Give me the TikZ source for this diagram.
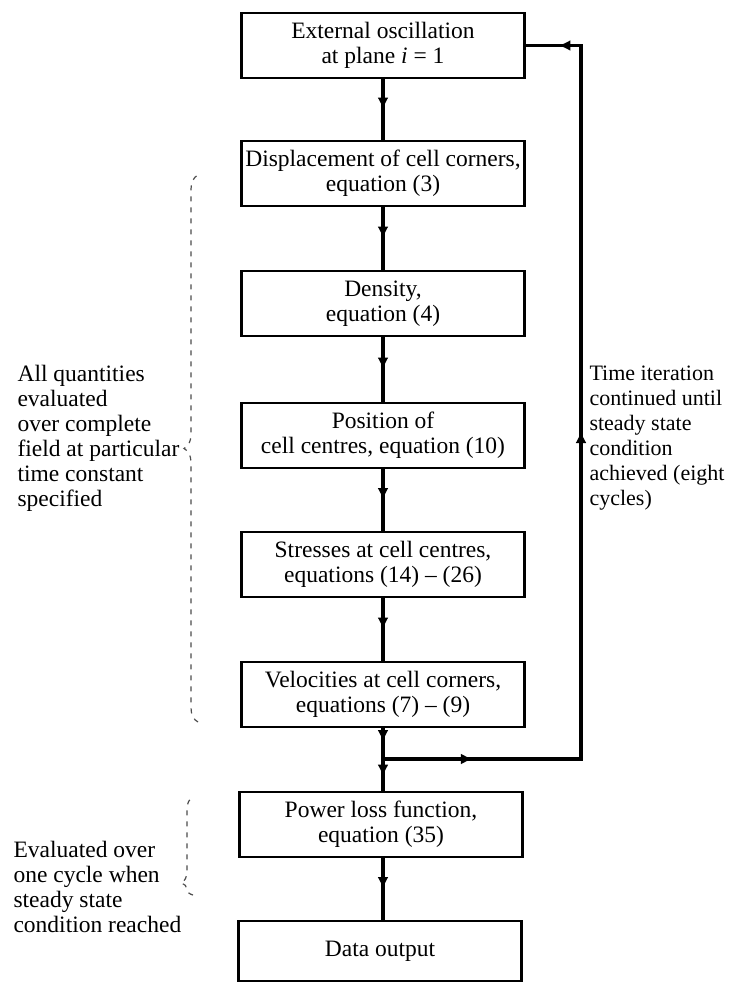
\documentclass[tikz,border=0pt]{standalone}
\usepackage{fontspec}
\setmainfont{Liberation Serif}
\usetikzlibrary{arrows.meta,decorations.markings,decorations.pathreplacing}

\tikzset{
  procbox/.style={draw,line width=2.2pt,minimum width=283pt,minimum height=65pt,inner sep=2pt,align=center},
  flow/.style={line width=3.6pt},
  midarrow/.style={postaction={decorate},decoration={markings,mark=at position #1 with {\arrow{Latex[length=12pt,width=11pt]}}}},
  faintbrace/.style={decorate,decoration={brace,amplitude=#1},draw=black!70,line width=1.2pt,dash pattern=on 5pt off 6pt},
  every node/.style={font=\fontsize{23.5}{25}\selectfont}
}

\begin{document}
\begin{tikzpicture}[x=1pt,y=-1pt]
\useasboundingbox (0,0) rectangle (730,983);
% boxes
\node[procbox] (ext) at (383,45.5) {External oscillation\\at plane \textit{i} = 1};
\node[procbox] (disp) at (383,173.5) {Displacement of cell corners,\\equation (3)};
\node[procbox] (dens) at (383,303.5) {Density,\\equation (4)};
\node[procbox] (posn) at (383,435.5) {Position of\\cell centres, equation (10)};
\node[procbox] (stress) at (383,564.5) {Stresses at cell centres,\\equations (14) -- (26)};
\node[procbox] (veloc) at (383,694.5) {Velocities at cell corners,\\equations (7) -- (9)};
\node[procbox] (power) at (381,824.5) {Power loss function,\\equation (35)};
\node[procbox,minimum height=60pt] (data) at (380,951) {Data output};
\coordinate (branch) at (383,759);
\coordinate (loopR) at (581,45.5);
% flow
\draw[flow,midarrow=0.5] (ext.south) -- (disp.north);
\draw[flow,midarrow=0.5] (disp.south) -- (dens.north);
\draw[flow,midarrow=0.5] (dens.south) -- (posn.north);
\draw[flow,midarrow=0.5] (posn.south) -- (stress.north);
\draw[flow,midarrow=0.5] (stress.south) -- (veloc.north);
\draw[flow,midarrow=0.45] (veloc.south) -- (branch);
\draw[flow,midarrow=0.55] (branch) -- (power.north -| branch);
\draw[flow,midarrow=0.5] (power.south -| branch) -- (data.north -| branch);
% loop back
\draw[flow,line join=miter,postaction={decorate},decoration={markings,
  mark=at position 0.093 with {\arrow{Latex[length=12pt,width=11pt]}},
  mark=at position 0.544 with {\arrow{Latex[length=12pt,width=11pt]}},
  mark=at position 0.966 with {\arrow{Latex[length=12pt,width=11pt]}}}]
  (branch) -| (loopR) -- (ext.east);
% braces
\draw[faintbrace=14pt] (198,722) -- (198,175);
\draw[faintbrace=12pt,decoration={aspect=0.12}] (193,895) -- (193,797);
% labels
\node[anchor=west,align=left] (alllbl) at (14,438) {All quantities\\evaluated\\over complete\\field at particular\\time constant\\specified};
\node[anchor=west,align=left] (evallbl) at (10,887) {Evaluated over\\one cycle when\\steady state\\condition reached};
\node[anchor=west,align=left,font=\fontsize{22}{25}\selectfont] (iterlbl) at (586,438) {Time iteration\\continued until\\steady state\\condition\\achieved (eight\\cycles)};
\end{tikzpicture}
\end{document}
